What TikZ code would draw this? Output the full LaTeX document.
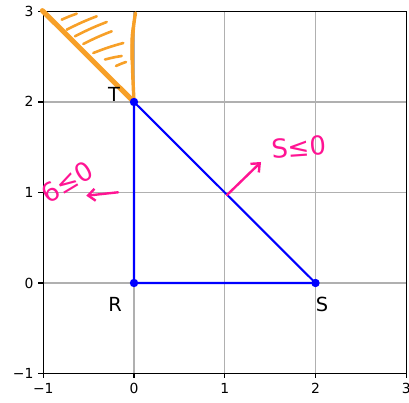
\documentclass[tikz,border=0pt]{standalone}
\usepackage{fontspec}
\setmainfont{DejaVu Sans}
\usetikzlibrary{arrows.meta}
\definecolor{gridgray}{RGB}{176,176,176}
\definecolor{hlorange}{RGB}{247,160,40}
\definecolor{hlpink}{RGB}{255,20,147}
\definecolor{mplblue}{RGB}{0,0,255}
\tikzset{
  gridline/.style={draw=gridgray,line width=1.1pt},
  axisline/.style={draw=black,line width=1.1pt},
  ticklabel/.style={inner sep=0pt,font=\fontsize{13.9}{14}\selectfont},
  vlabel/.style={inner sep=0pt,font=\fontsize{19.4}{20}\selectfont},
  blueline/.style={draw=mplblue,line width=2.1pt},
  bluedot/.style={fill=mplblue,draw=none},
  orangeedge/.style={draw=hlorange,line cap=round,line join=round},
  hatchstroke/.style={draw=hlorange,line width=2.6pt,line cap=round},
  pinkarrow/.style={draw=hlpink,line width=2.4pt,line cap=round,line join=round,
    -{Straight Barb[length=7pt,width=12pt,line width=2.4pt]}},
  pinktext/.style={text=hlpink,inner sep=0pt,font=\fontsize{26}{27}\selectfont},
}
\begin{document}
\begin{tikzpicture}[x=1pt,y=1pt]
\useasboundingbox (0,0) rectangle (409,402);
\begin{scope}[shift={(134pt,119pt)},x=90.75pt,y=90.5pt]
  \foreach \i in {-1,...,3} {
    \draw[gridline] (\i,-1) -- (\i,3);
    \draw[gridline] (-1,\i) -- (3,\i);
  }
  \draw[axisline] (-1,-1) rectangle (3,3);
  \foreach \i/\t in {-1/−1,0/0,1/1,2/2,3/3} {
    \draw[axisline] (\i,-1) -- ++(0pt,-4.9pt);
    \draw[axisline] (-1,\i) -- ++(-4.9pt,0pt);
    \node[ticklabel,anchor=base,yshift=-20pt] (xl\i) at (\i,-1) {\t};
    \node[ticklabel,anchor=base east,xshift=-9.7pt,yshift=-5pt] (yl\i) at (-1,\i) {\t};
  }
  \coordinate (R) at (0,0);
  \coordinate (S) at (2,0);
  \coordinate (T) at (0,2);
  \coordinate (TL) at (-1.01,3.01);
\end{scope}
\begin{scope}[shift={(0pt,402pt)},x=1pt,y=-1pt]
  % orange hatched region
  \draw[orangeedge,line width=5pt] (TL) -- (T);
  \coordinate (vtop) at (135.5,13);
  \draw[orangeedge,line width=3.4pt] (T) .. controls (132.5,70) and (130.5,40) .. (vtop);
  \draw[orangeedge,line width=2pt] (131.5,60) .. controls (131,35) .. (135.5,13);
  \coordinate (h1a) at (61.7,19.7);  \coordinate (h1b) at (76.7,13.7);
  \coordinate (h2a) at (66.7,29.7);  \coordinate (h2b) at (96.7,16.3);
  \coordinate (h3a) at (75,36.3);    \coordinate (h3b) at (106.7,22);
  \coordinate (h4a) at (83.3,44);    \coordinate (h4b) at (111.7,31.3);
  \coordinate (h5a) at (93.3,53);    \coordinate (h5b) at (123.3,43);
  \coordinate (h6a) at (105,59.5);   \coordinate (h6b) at (121.7,56);
  \coordinate (h7a) at (116,66);     \coordinate (h7b) at (126,62);
  \foreach \k in {1,...,7} \draw[hatchstroke] (h\k a) to[bend left=3] (h\k b);
  % blue triangle
  \draw[blueline] (T) -- (R) -- (S) -- (T);
  \foreach \p in {R,S,T} \fill[bluedot] (\p) circle (4.2pt);
  % vertex labels
  \node[vlabel] (labT) at (114,94) {T};
  \node[vlabel] (labR) at (115,304) {R};
  \node[vlabel] (labS) at (322,304.5) {S};
  % pink annotations
  \coordinate (la1) at (118,192.3);
  \coordinate (la2) at (86.3,195.7);
  \draw[pinkarrow] (la1) -- (la2);
  \node[pinktext,rotate=31] (txtL) at (67,182) {6≤0};
  \coordinate (ra1) at (227,195);
  \coordinate (ra2) at (261,162);
  \draw[pinkarrow] (ra1) -- (ra2);
  \node[pinktext,rotate=4] (txtR) at (299,147) {S≤0};
\end{scope}
\end{tikzpicture}
\end{document}
